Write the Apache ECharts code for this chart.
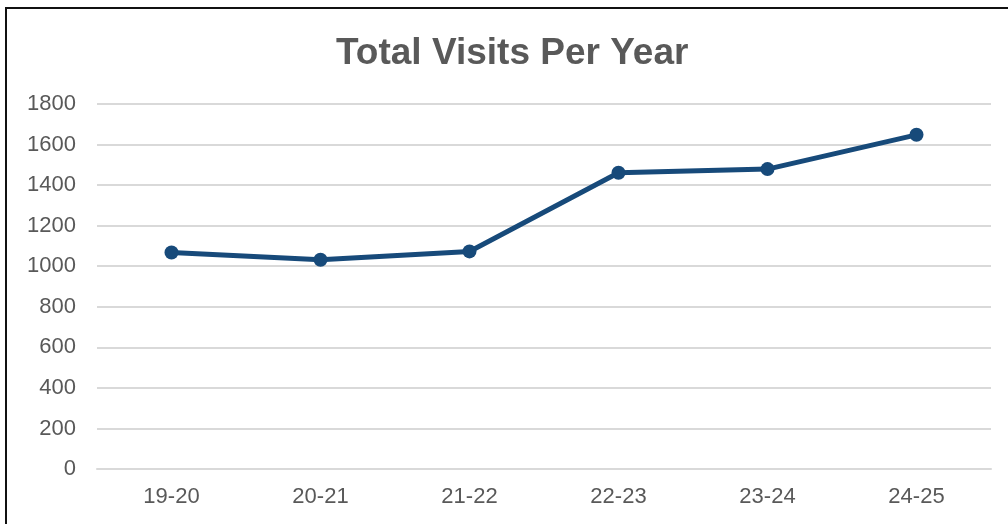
<!DOCTYPE html>
<html>
<head>
<meta charset="utf-8">
<script src="https://cdn.jsdelivr.net/npm/echarts@6/dist/echarts.min.js"></script>
<style>
  html, body { margin: 0; padding: 0; background: #fff; overflow: hidden; }
  #frame {
    position: absolute;
    left: 5px;
    top: 7px;
    width: 1020px;
    height: 540px;
    border: 2px solid #111;
    box-sizing: border-box;
  }
  #chart {
    position: absolute;
    left: 0;
    top: 0;
    width: 1008px;
    height: 524px;
  }
</style>
</head>
<body>
<div id="frame"></div>
<div id="chart"></div>
<script>
  const years = ["19-20", "20-21", "21-22", "22-23", "23-24", "24-25"];
  const visits = [1068, 1032, 1073, 1461, 1479, 1648];

  let mychart = echarts.init(document.getElementById("chart"));
  mychart.setOption({
    animation: false,
    title: {
      text: "Total Visits Per Year",
      left: 331,
      top: 30,
      textStyle: {
        fontFamily: "Liberation Sans, Arial",
        fontSize: 37,
        fontWeight: "bold",
        color: "#595959",
      },
    },
    grid: {
      left: 97,
      right: 17,
      top: 104,
      bottom: 55,
    },
    xAxis: {
      type: "category",
      data: years,
      axisLine: { lineStyle: { color: "#d9d9d9", width: 2 } },
      axisTick: { show: false },
      axisLabel: {
        margin: 17,
        fontFamily: "Liberation Sans, Arial",
        fontSize: 22,
        color: "#595959",
      },
    },
    yAxis: {
      type: "value",
      min: 0,
      max: 1800,
      interval: 200,
      axisLine: { show: false },
      axisTick: { show: false },
      axisLabel: {
        margin: 21,
        fontFamily: "Liberation Sans, Arial",
        fontSize: 22,
        color: "#595959",
        formatter: (v) => String(v),
      },
      splitLine: { lineStyle: { color: "#d9d9d9", width: 2 } },
    },
    series: [
      {
        name: "Visits",
        type: "line",
        data: visits,
        symbol: "circle",
        symbolSize: 14,
        lineStyle: { color: "#174a7a", width: 5 },
        itemStyle: { color: "#174a7a" },
      },
    ],
  });
</script>
</body>
</html>
